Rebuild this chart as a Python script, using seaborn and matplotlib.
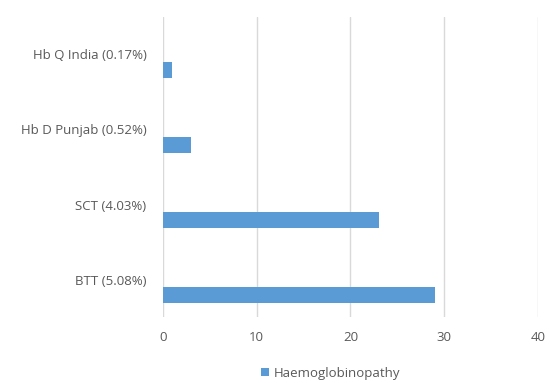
import numpy as np
import pandas as pd
import matplotlib
matplotlib.use("Agg")
import matplotlib.pyplot as plt
import seaborn as sns
from matplotlib.patches import Patch

categories = ["BTT (5.08%)", "SCT (4.03%)", "Hb D Punjab (0.52%)", "Hb Q India (0.17%)"]
values = [29, 23, 3, 1]
series_name = "Haemoglobinopathy"

sns.set_theme(style="white")
plt.rcParams["font.family"] = ["Open Sans", "DejaVu Sans"]

bar_color = "#5B9BD5"
text_color = "#595959"
grid_color = "#D9D9D9"

# bars sit just below each category label, like a two-slot cluster with one slot used
pos = np.arange(len(categories))
df = pd.DataFrame({"pos": pos - 0.207, "value": values})

fig = plt.figure(figsize=(5.51, 3.83), dpi=100)
ax = fig.add_axes([0.296, 0.172, 0.68, 0.784])

sns.barplot(data=df, x="value", y="pos", orient="h", native_scale=True,
            width=0.21, color=bar_color, saturation=1, ax=ax)
for p in ax.patches:
    p.set_edgecolor("none")

ax.set_xlim(0, 40)
ax.set_xticks([0, 10, 20, 30, 40])
ax.set_ylim(-0.5, len(categories) - 0.5)
ax.set_yticks(pos)
ax.set_yticklabels(categories)
ax.set_xlabel("")
ax.set_ylabel("")

ax.grid(axis="x", color=grid_color, linewidth=1)
ax.set_axisbelow(True)
for s in ax.spines.values():
    s.set_visible(False)
ax.tick_params(axis="both", length=0, labelsize=9.5, colors=text_color)
ax.tick_params(axis="y", pad=12)
ax.tick_params(axis="x", pad=10)

fig.legend(handles=[Patch(facecolor=bar_color, edgecolor="none", label=series_name)],
           loc="center", bbox_to_anchor=(0.6, 0.026), frameon=False,
           fontsize=9.5, labelcolor=text_color, handlelength=0.6, handleheight=0.6,
           handletextpad=0.3)

fig.savefig("out.png", dpi=100, facecolor="white")
